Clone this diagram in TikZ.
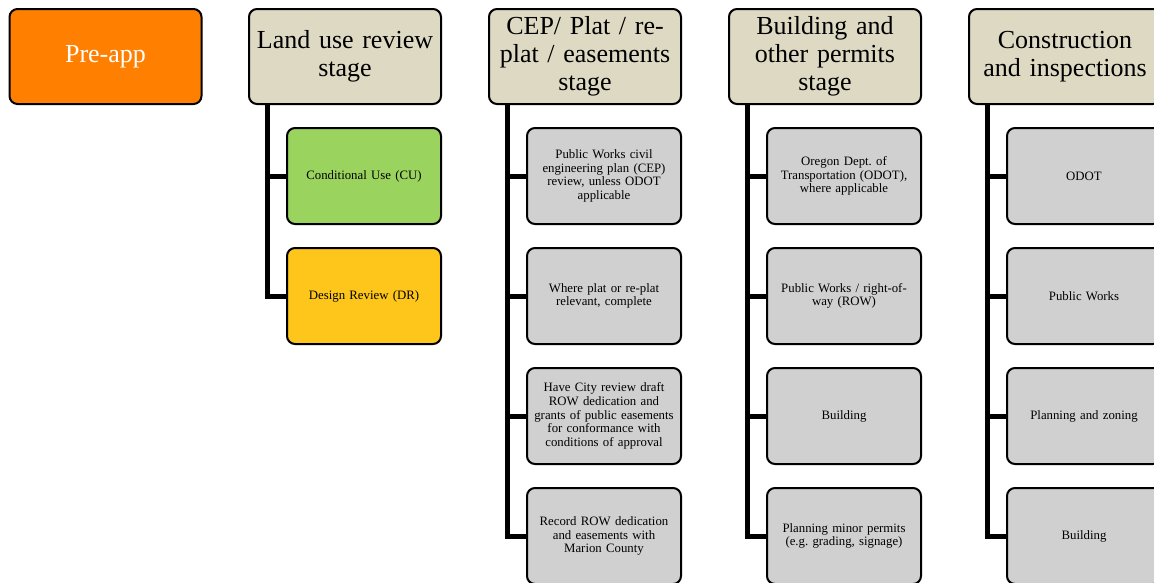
\documentclass[tikz,border=0pt]{standalone}
\usepackage{fontspec}
\setmainfont{Liberation Serif}
\frenchspacing
\definecolor{preorange}{RGB}{255,128,0}
\definecolor{headbeige}{RGB}{221,217,195}
\definecolor{cugreen}{RGB}{155,211,95}
\definecolor{dryellow}{RGB}{254,198,26}
\definecolor{childgray}{RGB}{208,208,208}
\tikzset{
  basebox/.style={draw=black, line width=2pt, rounded corners=8pt, align=center, inner sep=1pt},
  headbox/.style={basebox, fill=headbeige, minimum width=192pt, minimum height=95pt, text width=190pt, font=\fontsize{26}{28}\selectfont},
  prebox/.style={headbox, fill=preorange, text=white},
  childbox/.style={basebox, fill=childgray, minimum width=154pt, minimum height=96pt, text width=152pt, font=\fontsize{12.8}{13.6}\selectfont},
  conn/.style={draw=black, line width=5pt, line join=miter}
}
\begin{document}
\begin{tikzpicture}[x=1pt,y=-1pt]
\useasboundingbox (0,0) rectangle (1154,582);
% headers
\node[prebox] (h1) at (105.5,56.5) {Pre-app};
\node[headbox] (h2) at (345,56.5) {Land use review\\stage};
\node[headbox] (h3) at (585,56.5) {CEP/ Plat / re-\\plat / easements\\stage};
\node[headbox] (h4) at (825,56.5) {Building and\\other permits\\stage};
\node[headbox] (h5) at (1065,56.5) {Construction\\and inspections};
% land use children
\node[childbox, fill=cugreen] (c21) at (364,176) {Conditional Use (CU)};
\node[childbox, fill=dryellow] (c22) at (364,296) {Design Review (DR)};
% CEP children
\node[childbox] (c31) at (604,176) {Public Works civil\\engineering plan (CEP)\\review, unless ODOT\\applicable};
\node[childbox] (c32) at (604,296) {Where plat or re-plat\\relevant, complete};
\node[childbox] (c33) at (604,416) {Have City review draft\\ROW dedication and\\grants of public easements\\for conformance with\\conditions of approval};
\node[childbox] (c34) at (604,536) {Record ROW dedication\\and easements with\\Marion County};
% Building children
\node[childbox] (c41) at (844,176) {Oregon Dept. of\\Transportation (ODOT),\\where applicable};
\node[childbox] (c42) at (844,296) {Public Works / right-of-\\way (ROW)};
\node[childbox] (c43) at (844,416) {Building};
\node[childbox] (c44) at (844,536) {Planning minor permits\\(e.g. grading, signage)};
% Construction children
\node[childbox] (c51) at (1084,176) {ODOT};
\node[childbox] (c52) at (1084,296) {Public Works};
\node[childbox] (c53) at (1084,416) {Planning and zoning};
\node[childbox] (c54) at (1084,536) {Building};
% connectors
\foreach \h/\c in {h2/c21,h2/c22,h3/c31,h3/c32,h3/c33,h3/c34,h4/c41,h4/c42,h4/c43,h4/c44,h5/c51,h5/c52,h5/c53,h5/c54}
  \draw[conn] (\h.south west) ++(19,0) |- (\c.west);
\end{tikzpicture}
\end{document}
